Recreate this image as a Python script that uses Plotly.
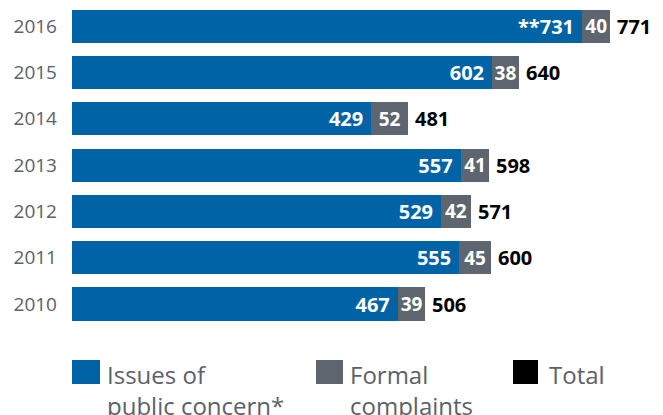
import plotly.graph_objects as go

years = ["2010", "2011", "2012", "2013", "2014", "2015", "2016"]
issues = [467, 555, 529, 557, 429, 602, 731]
formal = [39, 45, 42, 41, 52, 38, 40]
totals = [506, 600, 571, 598, 481, 640, 771]
issue_labels = ["467", "555", "529", "557", "429", "602", "**731"]

BLUE = "#0063a6"
GRAY = "#5d666e"
TXT = "#5b6169"
FONT = "Open Sans"

# page has an 8px body margin, so the figure is 655x407 drawn at (8, 8)
W, H = 655, 407
ml, mr, mt, mb = 64, 0, 0, 87
pw, ph = W - ml - mr, H - mt - mb
PITCH = 46.3  # px per category

def px(x):
    return (x - ml) / pw

def py(y):
    return (H - mb - y) / ph

fig = go.Figure()
fig.add_trace(go.Bar(
    y=years, x=issues, orientation="h", marker=dict(color=BLUE, line=dict(width=0)),
    text=[s + "&nbsp;" for s in issue_labels], textposition="inside", insidetextanchor="end",
    constraintext="none",
    textfont=dict(family=FONT, size=20, color="white", weight="bold"),
    name="Issues", hoverinfo="skip"))
fig.add_trace(go.Bar(
    y=years, x=formal, orientation="h", marker=dict(color=GRAY, line=dict(width=0)),
    text=[str(v) for v in formal], textposition="inside", insidetextanchor="middle",
    constraintext="none",
    textfont=dict(family=FONT, size=19, color="white", weight="bold"),
    name="Formal", hoverinfo="skip"))

annotations = []
for i, t in enumerate(totals):
    annotations.append(dict(x=t, y=i, xref="x", yref="y", text=str(t), showarrow=False,
                            xanchor="left", xshift=5,
                            font=dict(family=FONT, size=20, color="black", weight="bold")))

legend_items = [
    (64, 92, BLUE, 97, "Issues of<br>public concern*"),
    (308, 335, GRAY, 340, "Formal<br>complaints"),
    (505, 530, "black", 539, "Total"),
]
shapes = []
for x0, x1, col, tx, label in legend_items:
    shapes.append(dict(type="rect", xref="paper", yref="paper", x0=px(x0), x1=px(x1),
                       y0=py(376), y1=py(352), fillcolor=col, line=dict(width=0)))
    annotations.append(dict(x=px(tx), y=py(348), xref="paper", yref="paper", text=label,
                            showarrow=False, xanchor="left", yanchor="top", align="left",
                            font=dict(family=FONT, size=24, color=TXT)))

y_lo = -(ph - 296) / PITCH
y_hi = y_lo + ph / PITCH

fig.update_layout(
    width=W, height=H, barmode="stack", bargap=0.287,
    margin=dict(l=ml, r=mr, t=mt, b=mb, pad=0, autoexpand=False),
    paper_bgcolor="white", plot_bgcolor="white", showlegend=False,
    xaxis=dict(range=[0, pw / 0.698], visible=False, fixedrange=True, automargin=False),
    yaxis=dict(type="category", categoryorder="array", categoryarray=years,
               range=[y_lo, y_hi], automargin=False,
               showgrid=False, zeroline=False,
               ticks="", ticklabelstandoff=14,
               tickfont=dict(family=FONT, size=19, color=TXT)),
    annotations=annotations, shapes=shapes,
)
fig.write_html("out.html")
